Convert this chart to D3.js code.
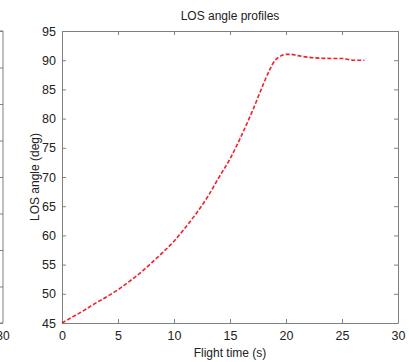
<!DOCTYPE html>
<meta charset="utf-8">
<html>
<head>
<script src="https://d3js.org/d3.v7.min.js"></script>
<style>
  body { margin: 0; background: #fff; }
  text { font-family: "Liberation Sans", Arial, sans-serif; fill: #222; }
</style>
</head>
<body>
<script>
// flight time (s) and LOS angle (deg)
var flightTime = [0, 1, 2, 3, 4, 5, 6, 7, 8, 9, 10, 11, 12, 13, 14, 15, 16, 17, 18, 18.5, 19, 19.5, 20, 20.5, 21, 22, 23, 24, 25, 25.5, 26, 27];
var losAngle   = [45, 46.1, 47.2, 48.4, 49.5, 50.7, 52.1, 53.6, 55.3, 57.1, 59.0, 61.3, 63.8, 66.6, 69.9, 73.1, 77.0, 81.3, 86.0, 88.2, 89.9, 90.7, 91.0, 91.0, 90.8, 90.5, 90.35, 90.3, 90.3, 90.15, 90.0, 90.0];
var xTicks = [0, 5, 10, 15, 20, 25, 30];
var yTicks = [45, 50, 55, 60, 65, 70, 75, 80, 85, 90, 95];
var prevTicks = [0, 1, 2, 3, 4, 5, 6, 7, 8];   // right edge of neighbouring panel

var W = 409, H = 362;
var pLeft = 62, pRight = 398, pTop = 31, pBottom = 323;
var axisColor = "#808080";

var svg = d3.select("body").append("svg")
  .attr("width", W).attr("height", H);

var x = d3.scaleLinear().domain([0, 30]).range([pLeft, pRight]);
var y = d3.scaleLinear().domain([45, 95]).range([pBottom, pTop]);

// neighbouring plot (only its right border is in view)
var yPrev = d3.scaleLinear().domain([0, 8]).range([pBottom, pTop]);
var gPrev = svg.append("g").attr("transform", "translate(3,0)")
  .call(d3.axisLeft(yPrev).tickValues(prevTicks).tickSize(4).tickFormat(""));
gPrev.select(".domain").attr("d", "M-4," + pTop + "H0V" + pBottom + "H-4");
gPrev.selectAll("path, line").attr("stroke", axisColor);
svg.append("text").attr("x", 3).attr("y", pBottom + 17)
  .attr("text-anchor", "middle").attr("font-size", 12).text("30");

// axes with box, ticks inward
function styleAxis(g) {
  g.selectAll("path, line").attr("stroke", axisColor);
  g.selectAll("text").attr("font-size", 12.5).attr("fill", "#222");
}
svg.append("g").attr("transform", "translate(0," + pBottom + ")")
  .call(d3.axisBottom(x).tickValues(xTicks).tickSizeInner(-4).tickSizeOuter(0).tickPadding(8))
  .call(styleAxis);
svg.append("g").attr("transform", "translate(0," + pTop + ")")
  .call(d3.axisTop(x).tickValues(xTicks).tickSizeInner(-4).tickSizeOuter(0).tickFormat(""))
  .call(styleAxis);
svg.append("g").attr("transform", "translate(" + pLeft + ",0)")
  .call(d3.axisLeft(y).tickValues(yTicks).tickSizeInner(-4).tickSizeOuter(0).tickPadding(6))
  .call(styleAxis);
svg.append("g").attr("transform", "translate(" + pRight + ",0)")
  .call(d3.axisRight(y).tickValues(yTicks).tickSizeInner(-4).tickSizeOuter(0).tickFormat(""))
  .call(styleAxis);

// curve
var pts = flightTime.map(function(t, i) { return [t, losAngle[i]]; });
svg.append("path")
  .datum(pts)
  .attr("fill", "none")
  .attr("stroke", "#f0202a")
  .attr("stroke-width", 1.6)
  .attr("stroke-dasharray", "4,2")
  .attr("d", d3.line().curve(d3.curveMonotoneX)
    .x(function(d) { return x(d[0]); })
    .y(function(d) { return y(d[1]); }));

// labels
svg.append("text").attr("x", (pLeft + pRight) / 2).attr("y", 20)
  .attr("text-anchor", "middle").attr("font-size", 12).text("LOS angle profiles");
svg.append("text").attr("x", (pLeft + pRight) / 2).attr("y", 357)
  .attr("text-anchor", "middle").attr("font-size", 12).text("Flight time (s)");
svg.append("text")
  .attr("transform", "translate(39," + (pTop + pBottom) / 2 + ") rotate(-90)")
  .attr("text-anchor", "middle").attr("font-size", 12).text("LOS angle (deg)");
</script>
</body>
</html>
